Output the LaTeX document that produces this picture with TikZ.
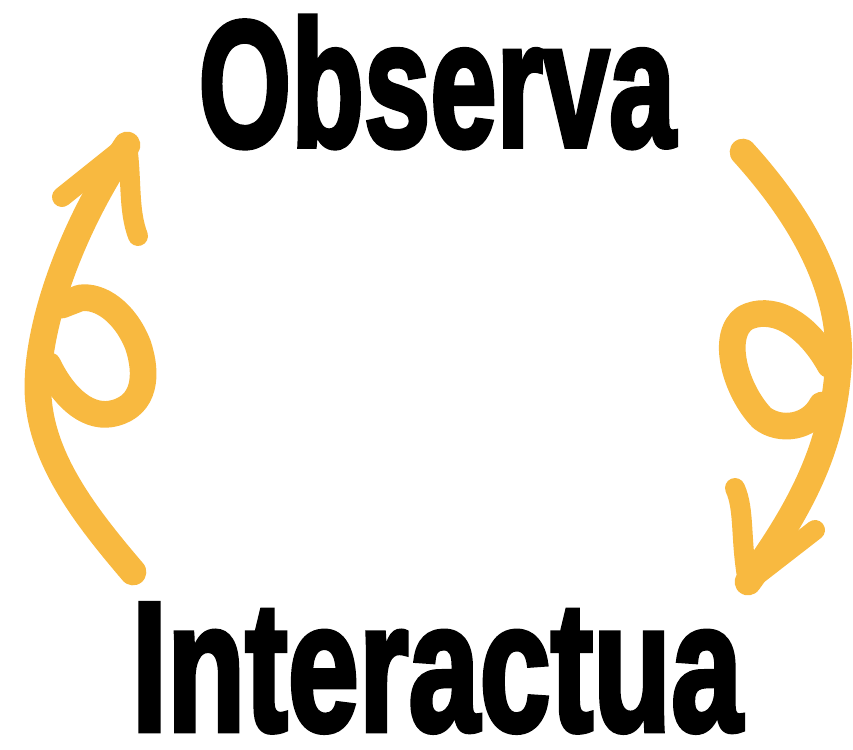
\documentclass[tikz,border=0pt]{standalone}
\usepackage{graphicx}
\usepackage{fontspec}
\newfontfamily\heavyfont{Liberation Sans Bold}[FakeBold=3]
\definecolor{swirlyellow}{HTML}{F8B940}
\begin{document}
\begin{tikzpicture}[x=0.03cm, y=-0.03cm,
    word/.style={inner sep=0pt, font=\heavyfont},
    swirl/.style={draw=swirlyellow, line width=0.8cm, line cap=round, line join=round},
    barb/.style={draw=swirlyellow, line width=0.6cm, line cap=round}]
    \useasboundingbox (0,0) rectangle (853,749);

    % palabras
    \node[word] (obs) at (437,82) {\resizebox{14.3cm}{3.9cm}{Observa}};
    \node[word] (int) at (437,668) {\resizebox{18.3cm}{3.8cm}{Interactua}};

    % flecha izquierda (sube)
    \coordinate (lstart) at (133,572);
    \coordinate (ltip) at (127,145);
    \draw[swirl] (lstart) .. controls (80,510) and (35,450) .. (38,380)
        .. controls (40,320) and (70,230) .. (ltip);
    \draw[swirl] (48,365) .. controls (65,400) and (90,420) .. (115,413)
        .. controls (145,405) and (148,375) .. (138,345)
        .. controls (125,312) and (100,295) .. (80,298) -- (62,305);
    \draw[barb] (ltip) -- (62,197);
    \draw[barb] (ltip) .. controls (132,180) and (128,210) .. (138,236);

    % flecha derecha (baja)
    \coordinate (rstart) at (743,152);
    \coordinate (rtip) at (748,582);
    \draw[swirl] (rstart) .. controls (800,215) and (845,290) .. (838,370)
        .. controls (832,450) and (800,510) .. (rtip);
    \draw[swirl] (830,365) .. controls (805,320) and (770,305) .. (745,318)
        .. controls (720,335) and (735,390) .. (762,418)
        .. controls (780,432) and (810,428) .. (822,405);
    \draw[barb] (rtip) .. controls (740,540) and (745,510) .. (735,488);
    \draw[barb] (rtip) -- (815,530);
\end{tikzpicture}
\end{document}
